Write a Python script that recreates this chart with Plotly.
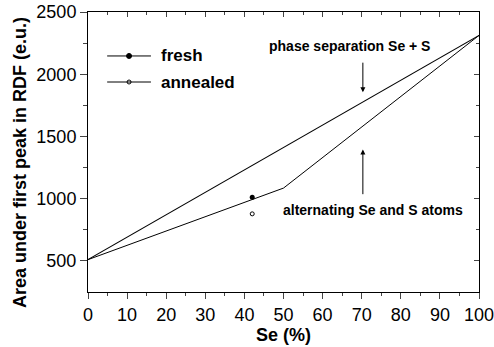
import plotly.graph_objects as go

se_ideal = [0, 100]
area_ideal = [510, 2312]
se_alt = [0, 50, 100]
area_alt = [510, 1085, 2312]
se_fresh = [42]
area_fresh = [1012]
se_annealed = [42]
area_annealed = [878]

font = "Liberation Sans, Arial, sans-serif"

fig = go.Figure()
fig.add_trace(go.Scatter(x=se_ideal, y=area_ideal, mode="lines",
                         line=dict(color="black", width=1.1), showlegend=False))
fig.add_trace(go.Scatter(x=se_alt, y=area_alt, mode="lines",
                         line=dict(color="black", width=1), showlegend=False))
fig.add_trace(go.Scatter(x=se_fresh, y=area_fresh, mode="markers",
                         marker=dict(color="black", size=5), showlegend=False))
fig.add_trace(go.Scatter(x=se_annealed, y=area_annealed, mode="markers",
                         marker=dict(color="white", size=4, line=dict(color="black", width=1)),
                         showlegend=False))

legend_items = [("fresh", "black", 0.843), ("annealed", "white", 0.75)]
for label, fill, yp in legend_items:
    fig.add_shape(type="line", xref="paper", yref="paper", x0=0.049, x1=0.161, y0=yp, y1=yp,
                  line=dict(color="black", width=1))
    fig.add_trace(go.Scatter(x=[0.105], y=[yp], xaxis="x3", yaxis="y3", mode="markers",
                             marker=dict(color=fill, size=5 if fill == "black" else 4,
                                         line=dict(color="black", width=1)), showlegend=False))
    fig.add_annotation(xref="paper", yref="paper", x=0.182, y=yp, text="<b>" + label + "</b>",
                       showarrow=False, xanchor="left", yanchor="middle",
                       font=dict(family=font, size=17, color="black"))

fig.add_annotation(x=66.9, y=2226, text="<b>phase separation Se + S</b>", showarrow=False,
                   font=dict(family=font, size=14, color="black"))
fig.add_annotation(x=70.3, y=1855, ax=70.3, ay=2105, xref="x", yref="y", axref="x", ayref="y",
                   text="", showarrow=True, arrowhead=2, arrowsize=1, arrowwidth=1, arrowcolor="black")
fig.add_annotation(x=72.9, y=911, text="<b>alternating Se and S atoms</b>", showarrow=False,
                   font=dict(family=font, size=14, color="black"))
fig.add_annotation(x=70.3, y=1395, ax=70.3, ay=1024, xref="x", yref="y", axref="x", ayref="y",
                   text="", showarrow=True, arrowhead=2, arrowsize=1, arrowwidth=1, arrowcolor="black")

# y-axis title
fig.add_annotation(xref="paper", yref="paper", x=-0.174, y=0.464, textangle=-90,
                   text="<b>Area under first peak in RDF (e.u.)</b>", showarrow=False,
                   xanchor="center", yanchor="middle", font=dict(family=font, size=18, color="black"))

fig.update_layout(
    width=494, height=347,
    margin=dict(l=88, r=15, t=12, b=55),
    plot_bgcolor="white", paper_bgcolor="white",
    font=dict(family=font, size=18, color="black"),
    xaxis=dict(range=[0, 100], tickvals=list(range(0, 101, 10)), ticks="outside", ticklen=6,
               tickwidth=1, showline=True, linecolor="black", linewidth=1, showgrid=False,
               zeroline=False, tickfont=dict(size=18), automargin=False, ticklabeloverflow="allow",
               minor=dict(tickvals=list(range(5, 100, 10)), ticks="outside", ticklen=3, tickwidth=1,
                          showgrid=False),
               title=dict(text="<b>Se (%)</b>", font=dict(size=18), standoff=2)),
    yaxis=dict(range=[250, 2500], tickvals=[500, 1000, 1500, 2000, 2500], ticks="outside", ticklen=7,
               tickwidth=1, showline=True, linecolor="black", linewidth=1, showgrid=False,
               zeroline=False, tickfont=dict(size=18), automargin=False, ticklabeloverflow="allow",
               minor=dict(tickvals=[750, 1250, 1750, 2250], ticks="outside", ticklen=4, tickwidth=1,
                          showgrid=False)),
    xaxis2=dict(range=[0, 100], overlaying="x", side="top", tickvals=list(range(0, 101, 10)),
                ticks="inside", ticklen=5, showticklabels=False, showline=True, linecolor="black",
                showgrid=False, zeroline=False, automargin=False,
                minor=dict(tickvals=list(range(5, 100, 10)), ticks="inside", ticklen=3, showgrid=False)),
    yaxis2=dict(range=[250, 2500], overlaying="y", side="right", tickvals=[500, 1000, 1500, 2000, 2500],
                ticks="inside", ticklen=5, showticklabels=False, showline=True, linecolor="black",
                showgrid=False, zeroline=False, automargin=False,
                minor=dict(tickvals=[750, 1250, 1750, 2250], ticks="inside", ticklen=3, showgrid=False)),
    xaxis3=dict(range=[0, 1], overlaying="x", visible=False, fixedrange=True, automargin=False),
    yaxis3=dict(range=[0, 1], overlaying="y", visible=False, fixedrange=True, automargin=False),
    showlegend=False,
)
fig.add_trace(go.Scatter(x=[None], y=[None], xaxis="x2", yaxis="y2", showlegend=False))

fig.write_html("out.html", config={"displayModeBar": False},
               post_script="document.body.style.margin='0';")
